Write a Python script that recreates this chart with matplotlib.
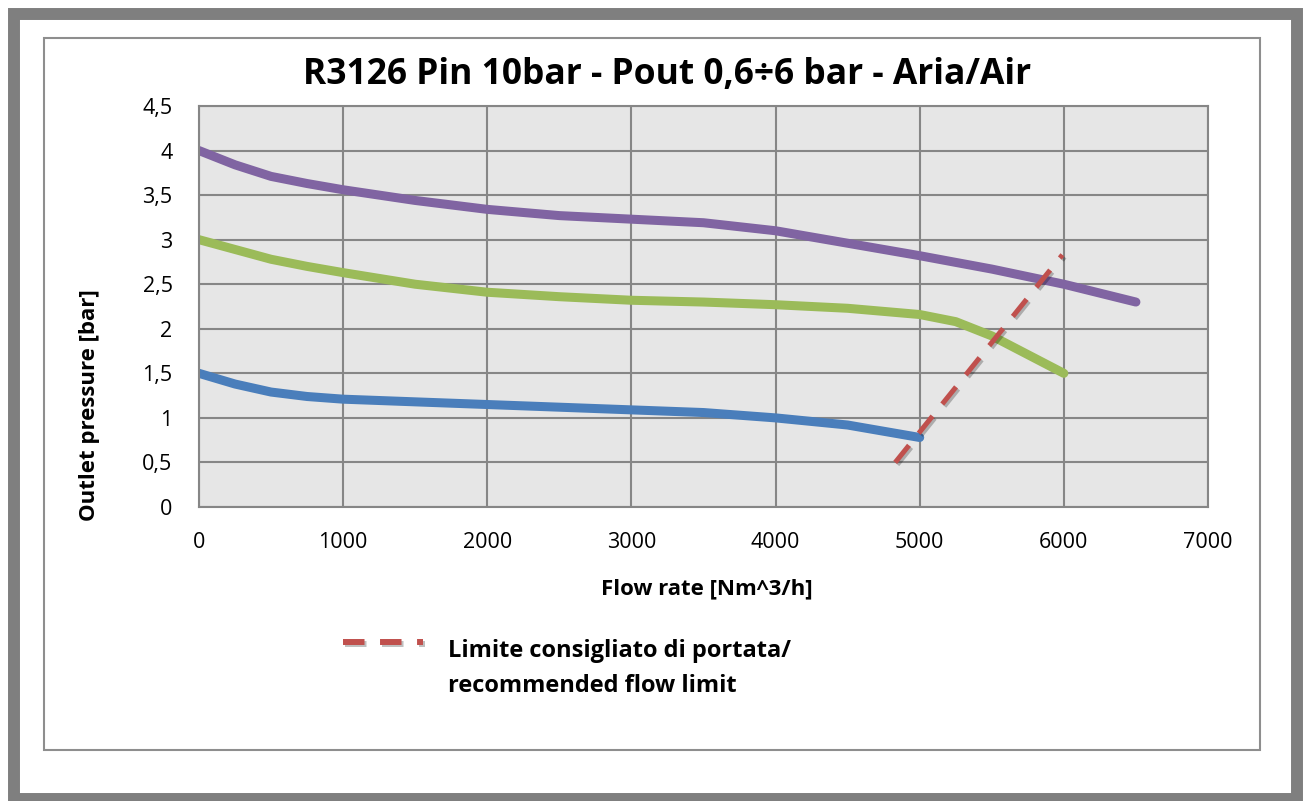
import matplotlib
matplotlib.use("Agg")
import matplotlib.pyplot as plt
import matplotlib.patheffects as pe
from matplotlib.lines import Line2D
from matplotlib.patches import Rectangle
from matplotlib.ticker import FuncFormatter

# --- data ---
flow_hi = [0, 250, 500, 750, 1000, 1500, 2000, 2500, 3000, 3500, 4000, 4500, 5000, 5500, 6000, 6500]
p_hi = [4.00, 3.84, 3.71, 3.63, 3.56, 3.44, 3.34, 3.27, 3.23, 3.19, 3.10, 2.96, 2.82, 2.67, 2.50, 2.30]

flow_mid = [0, 250, 500, 750, 1000, 1500, 2000, 2500, 3000, 3500, 4000, 4500, 5000, 5250, 5500, 5750, 6000]
p_mid = [3.00, 2.89, 2.78, 2.70, 2.63, 2.50, 2.41, 2.36, 2.32, 2.30, 2.27, 2.23, 2.16, 2.08, 1.92, 1.71, 1.50]

flow_lo = [0, 250, 500, 750, 1000, 1500, 2000, 2500, 3000, 3500, 4000, 4500, 5000]
p_lo = [1.50, 1.38, 1.29, 1.24, 1.21, 1.18, 1.15, 1.12, 1.09, 1.06, 1.00, 0.92, 0.78]

limit_flow = [4830, 5990]
limit_p = [0.50, 2.83]

x_ticks = [0, 1000, 2000, 3000, 4000, 5000, 6000, 7000]
y_ticks = [0, 0.5, 1, 1.5, 2, 2.5, 3, 3.5, 4, 4.5]

title = "R3126 Pin 10bar - Pout 0,6÷6 bar - Aria/Air"
legend_lines = ["Limite consigliato di portata/", "recommended flow limit"]

W, H = 1303, 801
plt.rcParams['font.family'] = ['Open Sans', 'DejaVu Sans']

fig = plt.figure(figsize=(W / 100, H / 100), dpi=100)
fig.patch.set_facecolor("white")

def fx(px):
    return px / W

def fy(py):
    return 1 - py / H

# frames around the chart
fig.add_artist(Rectangle((fx(14), fy(799)), fx(1296.5) - fx(14), fy(13.5) - fy(799),
                         transform=fig.transFigure, fill=False, ec="#7f7f7f", lw=8.6))
fig.add_artist(Rectangle((fx(44), fy(750)), fx(1260) - fx(44), fy(38) - fy(750),
                         transform=fig.transFigure, fill=False, ec="#8e8e8e", lw=1.5))

ax = fig.add_axes([fx(199), fy(507), fx(1208) - fx(199), fy(106) - fy(507)])
ax.set_facecolor("#e6e6e6")
ax.set_xlim(0, 7000)
ax.set_ylim(0, 4.5)
ax.set_xticks(x_ticks)
ax.set_yticks(y_ticks)
ax.yaxis.set_major_formatter(FuncFormatter(lambda v, p: ("%g" % v).replace(".", ",")))
ax.tick_params(length=0, labelsize=15.5, colors="black")
ax.tick_params(axis="y", pad=19)
ax.tick_params(axis="x", pad=18)
ax.grid(True, color="#868686", lw=1.5)
ax.set_axisbelow(True)
for s in ax.spines.values():
    s.set_color("#868686")
    s.set_linewidth(1.5)

lw = 6.5
ax.plot(flow_hi, p_hi, color="#8064a2", lw=lw, solid_capstyle="round", solid_joinstyle="round")
ax.plot(flow_mid, p_mid, color="#9bbb59", lw=lw, solid_capstyle="round", solid_joinstyle="round")
ax.plot(flow_lo, p_lo, color="#4a7ebb", lw=lw, solid_capstyle="round", solid_joinstyle="round")

shadow = [pe.SimpleLineShadow(offset=(1.5, -1.5), shadow_color="black", alpha=0.25), pe.Normal()]
ax.plot(limit_flow, limit_p, color="#c0504d", lw=3.6, dashes=(4.4, 3.1),
        dash_capstyle="butt", path_effects=shadow, clip_on=False)

fig.text(fx(667), fy(84), title, ha="center", va="baseline", fontsize=25.5, fontweight="bold")
fig.text(fx(707), fy(594), "Flow rate [Nm^3/h]", ha="center", va="baseline", fontsize=16, fontweight="bold")
fig.text(fx(90), fy(405), "Outlet pressure [bar]", ha="center", va="center", rotation=90,
         fontsize=16, fontweight="bold")

# legend for the dashed limit line
fig.add_artist(Line2D([fx(343), fx(423)], [fy(642), fy(642)], transform=fig.transFigure,
                      color="#c0504d", lw=4.3, dashes=(3.6, 2.6), dash_capstyle="butt",
                      path_effects=shadow))
fig.text(fx(448), fy(657), legend_lines[0], ha="left", va="baseline", fontsize=17, fontweight="bold")
fig.text(fx(448), fy(692), legend_lines[1], ha="left", va="baseline", fontsize=17, fontweight="bold")

fig.savefig("out.png", dpi=100)
